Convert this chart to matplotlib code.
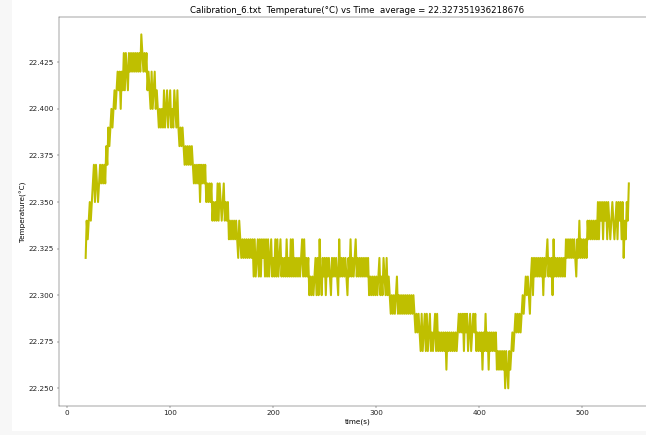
import numpy as np
import matplotlib
matplotlib.use("Agg")
import matplotlib.pyplot as plt
from matplotlib.patches import Rectangle

# one reading per second, in hundredths of a degree above 22.00 C
time_s = np.arange(18, 546)
temp_centi = [
    32, 34, 33, 34, 35, 34, 35, 36, 37, 35, 37, 36, 35, 36,                    # 18-31
    37, 36, 37, 36, 37, 36, 38, 37, 39, 38, 39, 40, 39, 40, 41, 40, 41, 42,    # 32-49
    41, 42, 40, 42, 41, 43, 41, 43, 42, 41, 43, 42, 43, 42, 43, 42, 43, 42,    # 50-67
    43, 42, 43, 42, 44, 43, 42, 43, 42, 43, 41, 42, 41, 40, 42, 40, 41, 42,    # 68-85
    40, 41, 40, 39, 40, 39, 40, 39, 41, 39, 40, 41, 39, 40, 41, 39, 40, 39,    # 86-103
    41, 40, 39, 41, 39, 38, 39, 38, 39, 38, 37, 38, 37, 38, 37, 38, 37, 38,    # 104-121
    37, 36, 37, 36, 37, 36, 37, 35, 37, 36, 37, 36, 37, 35, 36, 35, 36, 35,    # 122-139
    36, 34, 35, 34, 35, 34, 36, 34, 36, 35, 34, 35, 36, 34, 35, 34, 35, 33,    # 140-157
    34, 33, 34, 33, 34, 33, 34, 33, 32, 34, 33, 32, 33, 32, 33, 32, 33, 32,    # 158-175
    33, 32, 33, 32, 33, 31, 33, 31, 32, 33, 31, 33, 31, 33, 32, 33, 31, 33,    # 176-193
    31, 33, 31, 32, 33, 31, 32, 31, 33, 31, 33, 31, 32, 33, 31, 32, 31, 32,    # 194-211
    31, 33, 31, 32, 31, 33, 31, 33, 31, 32, 31, 32, 31, 32, 31, 32, 33, 31,    # 212-229
    33, 31, 32, 31, 32, 30, 31, 30, 31, 30, 31, 32, 30, 32, 30, 33, 31, 30,    # 230-247
    32, 31, 32, 30, 32, 31, 32, 31, 30, 32, 31, 32, 31, 32, 31, 30, 33, 31,    # 248-265
    32, 31, 32, 31, 32, 31, 30, 32, 31, 33, 31, 32, 31, 32, 33, 31, 32, 31,    # 266-283
    32, 31, 32, 31, 32, 31, 32, 31, 32, 30, 31, 30, 31, 30, 31, 30, 31, 30,    # 284-301
    31, 32, 30, 31, 30, 32, 31, 30, 32, 30, 31, 30, 29, 30, 29, 30, 29, 30,    # 302-319
    31, 29, 30, 29, 30, 29, 30, 29, 30, 29, 30, 29, 30, 29, 30, 29, 30, 29,    # 320-337
    28, 29, 28, 29, 28, 27, 29, 27, 28, 29, 27, 29, 27, 28, 29, 27, 28, 27,    # 338-355
    28, 29, 27, 29, 27, 28, 27, 28, 27, 28, 27, 28, 26, 28, 27, 28, 27, 28,    # 356-373
    27, 28, 27, 28, 27, 28, 29, 28, 29, 28, 29, 27, 29, 28, 29, 27, 28, 29,    # 374-391
    27, 28, 29, 28, 29, 27, 28, 27, 28, 27, 28, 26, 28, 27, 29, 27, 28, 26,    # 392-409
    28, 27, 28, 27, 28, 27, 28, 26, 27, 26, 27, 26, 27, 26, 27, 25, 27, 26,    # 410-427
    25, 27, 26, 27, 28, 27, 28, 29, 28, 29, 28, 29, 28, 29, 30, 29, 30, 31,    # 428-445
    30, 31, 30, 29, 31, 32, 30, 32, 31, 32, 31, 32, 31, 32, 31, 32, 30, 32,    # 446-463
    31, 32, 33, 31, 32, 31, 32, 30, 33, 31, 32, 31, 32, 31, 32, 31, 32, 31,    # 464-481
    32, 31, 33, 32, 33, 32, 33, 32, 33, 32, 33, 32, 31, 33, 32, 34, 32, 33,    # 482-499
    32, 33, 32, 33, 32, 34, 33, 34, 33, 34, 33, 34, 33, 34, 33, 35, 33, 35,    # 500-517
    34, 35, 33, 35, 34, 35, 33, 35, 34, 33, 34, 35, 34, 33, 34, 35, 33, 35,    # 518-535
    34, 35, 33, 35, 32, 34, 33, 35, 34, 36,                                    # 536-545
]
temps = 22.0 + np.array(temp_centi) / 100.0
avg_text = "22.327351936218676"

plt.rcParams["font.size"] = 12

dpi = 43.2
fig = plt.figure(figsize=(646 / dpi, 435 / dpi), dpi=dpi, facecolor="#f7f7f7")
fig.patches.append(Rectangle((12 / 646, 4 / 435), 1, 1, transform=fig.transFigure,
                             facecolor="white", edgecolor="none", zorder=-1))

ax = fig.add_axes([58.5 / 646, 29 / 435, 597.5 / 646, 389.3 / 435])
ax.plot(time_s, temps, color="y", linewidth=3.4)
ax.set_title("Calibration_6.txt  Temperature(°C) vs Time  average = " + avg_text)
ax.set_xlabel("time(s)")
ax.set_ylabel("Temperature(°C)")
for side in ax.spines.values():
    side.set_color("#444444")
ax.tick_params(colors="#444444", labelcolor="#222222")

fig.savefig("out.png", dpi=dpi, facecolor=fig.get_facecolor())
